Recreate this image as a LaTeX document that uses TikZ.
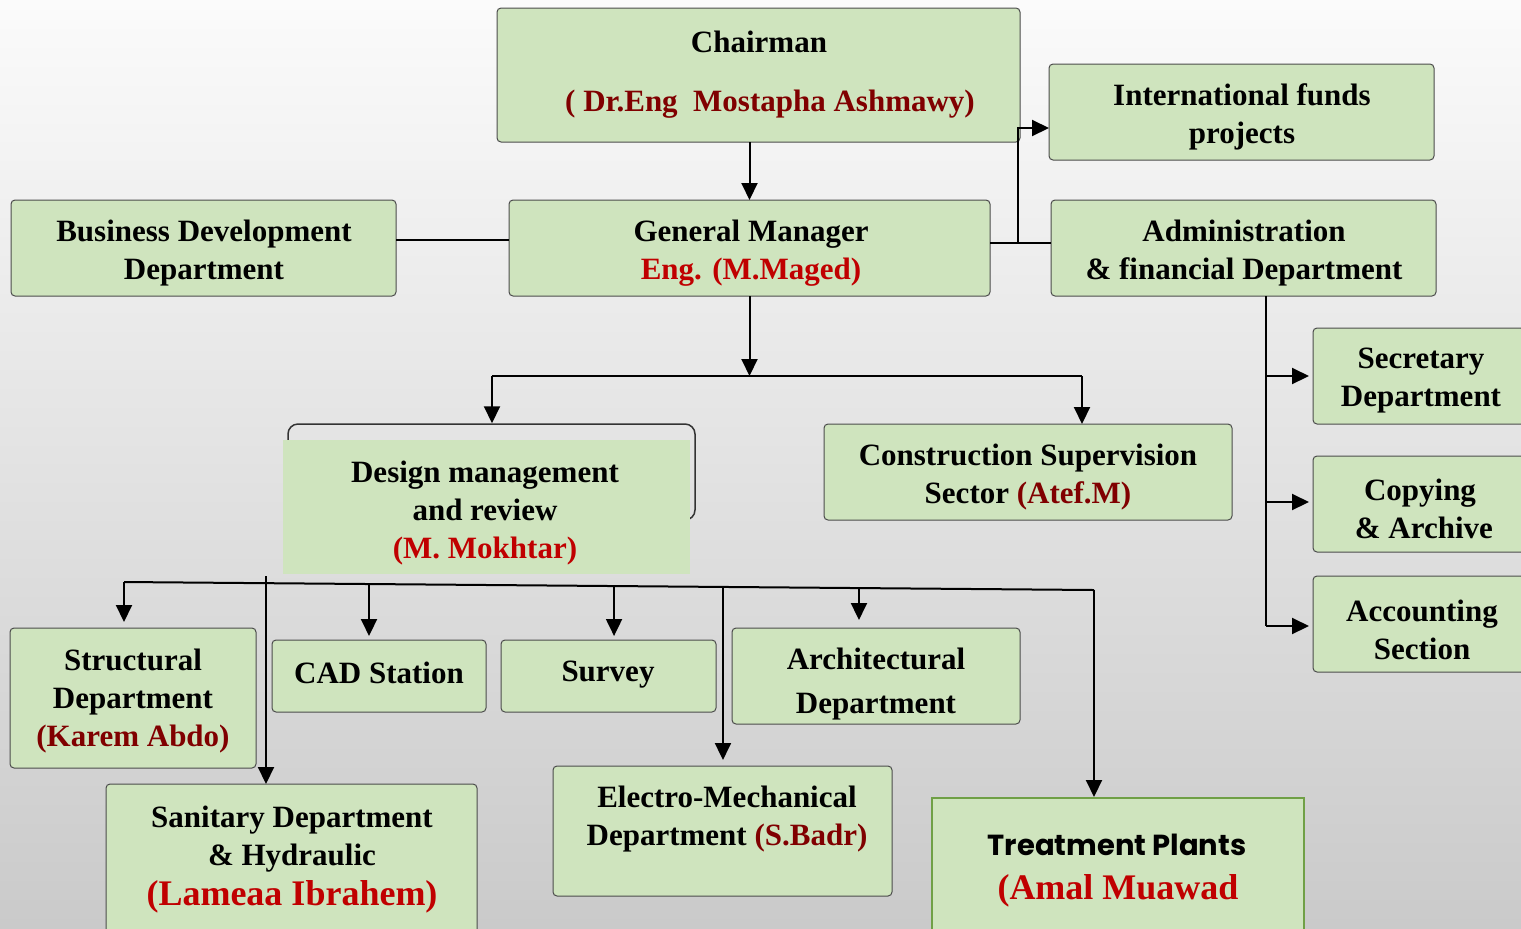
\documentclass[tikz,border=0pt]{standalone}
\usepackage{fontspec}
\setmainfont{Liberation Serif}
\newfontfamily\gothicfont{Poppins}
\usetikzlibrary{arrows.meta,fit,calc}
\definecolor{boxgreen}{RGB}{207,228,190}
\definecolor{dred}{RGB}{128,0,0}
\definecolor{bred}{RGB}{192,0,0}
\definecolor{tpgreen}{RGB}{112,160,70}
\definecolor{bgtop}{RGB}{251,251,251}
\definecolor{bgmid}{RGB}{236,236,236}
\definecolor{bgbot}{RGB}{202,202,202}
\begin{document}
\begin{tikzpicture}[x=0.5pt,y=-0.5pt,
  gbox/.style={fill=boxgreen, draw=black!70, line width=0.5pt, rounded corners=2pt, inner sep=0pt, outer sep=0pt},
  txt/.style={font=\fontsize{15.5}{19}\selectfont\bfseries, align=center, inner sep=0pt},
  arr/.style={-{Triangle[length=8.5pt,width=8pt]}, line width=1pt},
  ln/.style={line width=1pt}]
\useasboundingbox (0,0) rectangle (1521,928);
\shade[top color=bgtop, middle color=bgmid, bottom color=bgbot] (0,0) rectangle (1521,928);

% boxes
\node[gbox, fit={(497,8) (1020,142)}] (chair) {};
\node[gbox, fit={(509,200) (990,296)}] (gm) {};
\node[gbox, fit={(11,200) (396,296)}] (bdd) {};
\node[gbox, fit={(1049,64) (1434,160)}] (intl) {};
\node[gbox, fit={(1051,200) (1436,296)}] (admin) {};
\node[gbox, fit={(1313,328) (1530,424)}] (sec) {};
\node[gbox, fit={(1313,456) (1530,552)}] (copy) {};
\node[gbox, fit={(1313,576) (1530,672)}] (acc) {};
\node[draw=black!80, line width=0.75pt, rounded corners=5pt, inner sep=0pt, fit={(288,424) (695,520)}] (design) {};
\node[fill=boxgreen, inner sep=0pt, fit={(283,440) (690,574)}] (design-f) {};
\node[gbox, fit={(824,424) (1232,520)}] (cons) {};
\node[gbox, fit={(10,628) (256,768)}] (struct) {};
\node[gbox, fit={(272,640) (486,712)}] (cad) {};
\node[gbox, fit={(501,640) (716,712)}] (survey) {};
\node[gbox, fit={(732,628) (1020,724)}] (arch) {};
\node[gbox, fit={(106,784) (477,940)}] (san) {};
\node[gbox, fit={(553,766) (892,896)}] (em) {};
\node[fill=boxgreen, draw=tpgreen, line width=1pt, inner sep=0pt, fit={(932,798) (1304,940)}] (tp) {};

% texts
\node[txt] (chair-t1) at (759,42) {Chairman};
\node[txt, text=dred] (chair-t2) at (770,104) {(\ Dr.Eng\ \ Mostapha Ashmawy)};
\node[txt] (gm-t) at (751,253) {General Manager\\{\color{bred}Eng. (M.Maged)}};
\node[txt] (bdd-t) at (204,253) {Business Development\\Department};
\node[txt] (intl-t) at (1242,117) {International funds\\projects};
\node[txt] (admin-t) at (1244,253) {Administration\\\& financial Department};
\node[txt] (sec-t) at (1421,381) {Secretary\\Department};
\node[txt] (copy-t) at (1420,509) {Copying\\\ \& Archive};
\node[txt] (acc-t) at (1422,630) {Accounting\\Section};
\node[txt] (design-t) at (485,513) {Design management\\and review\\{\color{bred}(M. Mokhtar)}};
\node[txt] (cons-t) at (1028,477) {Construction Supervision\\Sector {\color{dred}(Atef.M)}};
\node[txt] (struct-t) at (133,701) {Structural\\Department\\{\color{dred}(Karem Abdo)}};
\node[txt] (cad-t) at (379,673) {CAD Station};
\node[txt] (survey-t) at (608,675) {Survey};
\node[txt] (arch-t) at (876,684) {Architectural\\[3pt]Department};
\node[txt] (san-t) at (292,860) {Sanitary Department\\\& Hydraulic\\[1pt]{\fontsize{18}{21}\selectfont\color{bred}(Lameaa Ibrahem)}};
\node[txt] (em-t) at (727,819) {Electro-Mechanical\\Department\ {\color{dred}(S.Badr)}};
\node[inner sep=0pt, font=\gothicfont\bfseries\fontsize{14.5}{17}\selectfont] (tp-t1) at (1117,845) {Treatment Plants};
\node[inner sep=0pt, font=\bfseries\fontsize{18}{21}\selectfont, text=bred] (tp-t2) at (1118,891) {(Amal Muawad};

% connectors
\draw[arr] (chair.south -| gm.north) -- (gm.north);
\draw[ln] ([yshift=4pt]bdd.east) -- ([yshift=4pt]bdd.east -| gm.west);
\draw[ln] ([yshift=2.5pt]gm.east) -- ([yshift=2.5pt]gm.east -| admin.west);
\coordinate (j1) at (1018,242);
\draw[arr] (j1) |- ([yshift=-8pt]intl.west);

\coordinate (d1) at (492,376);
\coordinate (d2) at (1082,376);
\draw[arr] (gm.south) -- (gm.south |- d1);
\draw[ln] (d1) -- (d2);
\draw[arr] (d1) -- (d1 |- design.north);
\draw[arr] (d2) -- (d2 |- cons.north);

\coordinate (abus) at (1266,626);
\draw[ln] (admin.south -| abus) -- (abus);
\draw[arr] (abus |- sec.west) -- ([xshift=-2pt]sec.west);
\draw[arr] (abus |- 0,502) -- ([xshift=-2pt]copy.west |- 0,502);
\draw[arr] (abus) -- ([xshift=-2pt]acc.west |- abus);

\coordinate (b1) at (124,582);
\coordinate (b2) at (1094,590);
\draw[ln] (b1) -- (b2)
  coordinate[pos=0.2526] (p2)
  coordinate[pos=0.5052] (p3)
  coordinate[pos=0.6175] (p5)
  coordinate[pos=0.7577] (p4);
\draw[arr] (b1) -- ([yshift=3pt]b1 |- struct.north);
\draw[arr] (p2) -- ([yshift=2pt]p2 |- cad.north);
\draw[arr] (p3) -- ([yshift=2pt]p3 |- survey.north);
\draw[arr] (p4) -- ([yshift=4pt]p4 |- arch.north);
\draw[arr] (p5) -- ([yshift=3pt]p5 |- em.north);
\draw[arr] (b2) -- (b2 |- tp.north);
\coordinate (s0) at (266,576);
\draw[arr] (s0) -- (s0 |- san.north);
\end{tikzpicture}
\end{document}
